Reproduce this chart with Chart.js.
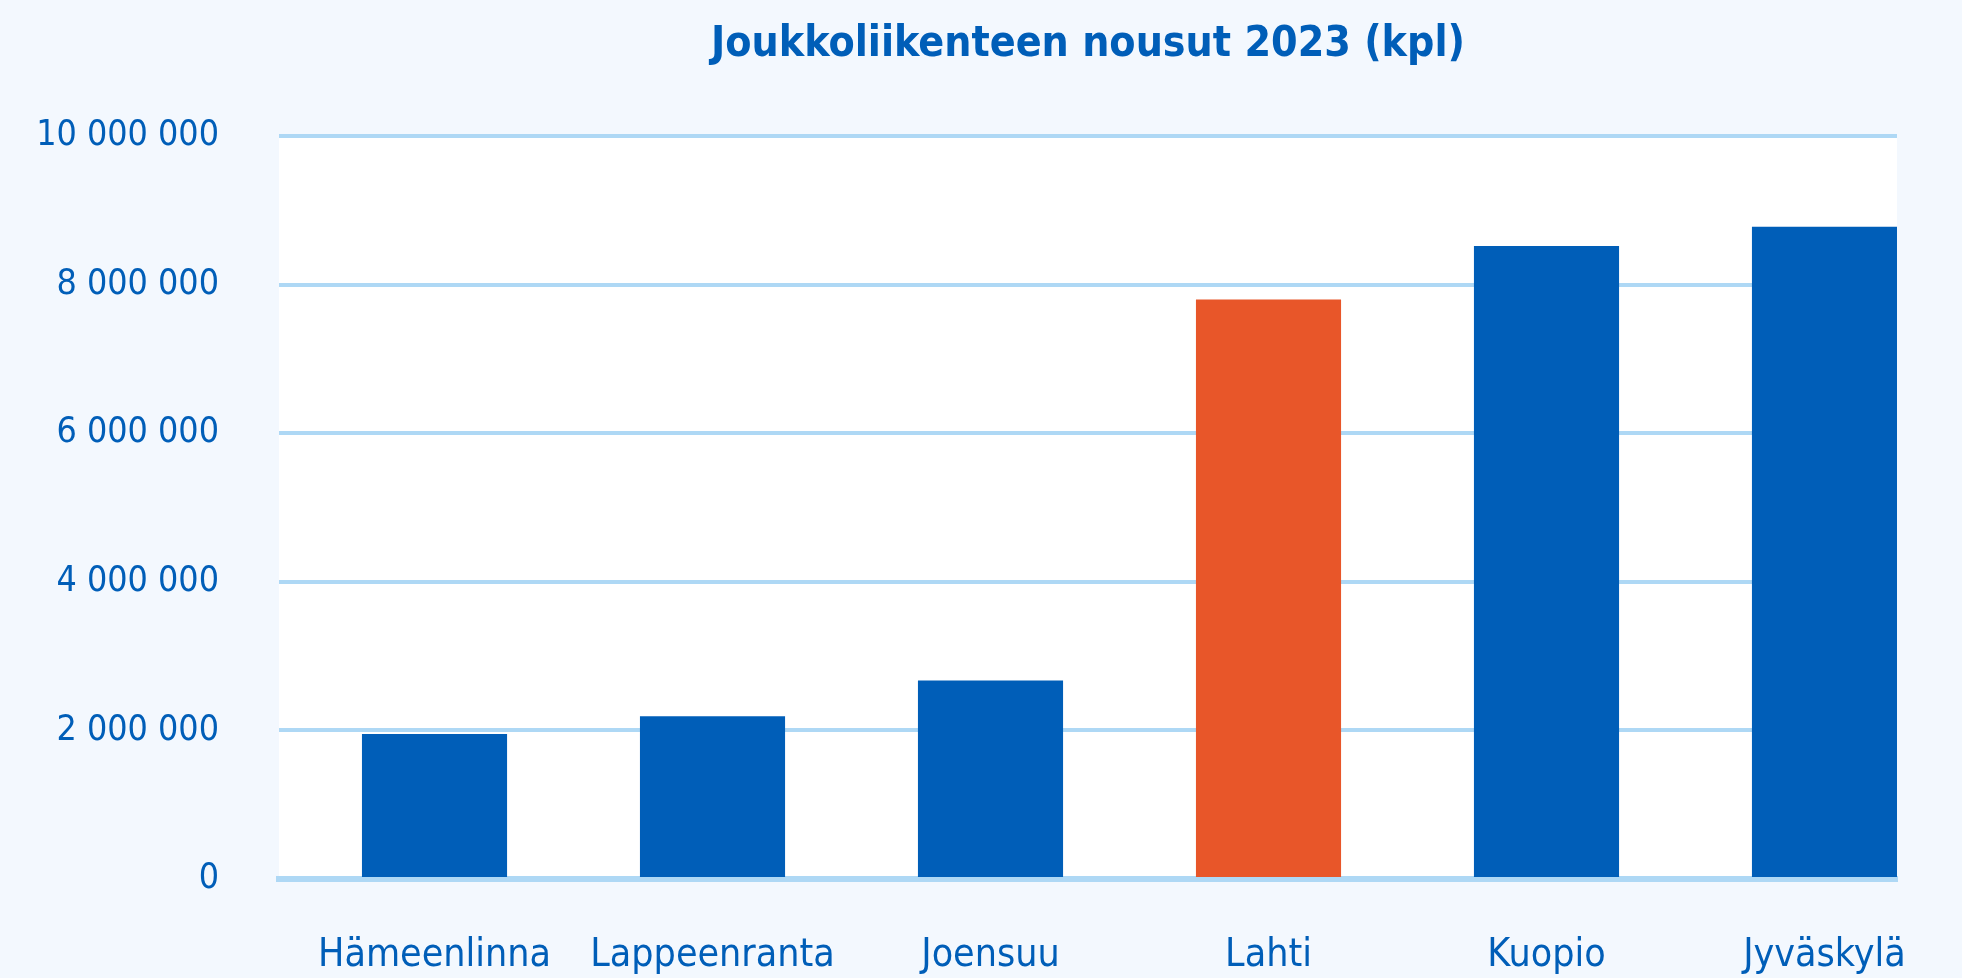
<!DOCTYPE html>
<html>
<head>
<meta charset="utf-8">
<title>Joukkoliikenteen nousut 2023</title>
<script src="https://cdn.jsdelivr.net/npm/chart.js@4/dist/chart.umd.min.js"></script>
<style>
    html, body { margin: 0; padding: 0; background: #F3F8FE; }
    #wrap { width: 1962px; height: 978px; }
</style>
</head>
<body>
<div id="wrap"><canvas id="nousutChart" width="1962" height="978"></canvas></div>
<script>
var categories = ['Hämeenlinna', 'Lappeenranta', 'Joensuu', 'Lahti', 'Kuopio', 'Jyväskylä'];
var nousut = [1950000, 2190000, 2670000, 7800000, 8520000, 8780000];
var yTicks = [0, 2000000, 4000000, 6000000, 8000000, 10000000];
var highlight = 'Lahti';

var blue = '#005EB8';
var orange = '#E85629';
var gridBlue = '#AED8F5';

function formatNumber(v) {
    return String(v).replace(/\B(?=(\d{3})+(?!\d))/g, ' ');
}

// white plot background, only behind the chart area
var plotBackground = {
    id: 'plotBackground',
    beforeDraw: function(chart) {
        var a = chart.chartArea;
        var ctx = chart.ctx;
        ctx.save();
        ctx.fillStyle = '#FFFFFF';
        ctx.fillRect(a.left, a.top, a.right - a.left, a.bottom - a.top);
        ctx.restore();
    }
};

function getDataForNousutChart() {
    var ctx = document.getElementById('nousutChart').getContext('2d');

    Chart.defaults.font.family = "'DejaVu Sans Condensed', 'DejaVu Sans', sans-serif";
    Chart.defaults.color = blue;

    var data = {
        datasets: [{
            label: 'Nousut',
            data: nousut.map(function(v, i) { return { x: i, y: v }; }),
            backgroundColor: categories.map(function(c) { return c === highlight ? orange : blue; }),
            borderWidth: 0,
            barPercentage: 0.522,
            categoryPercentage: 1.0
        }]
    };

    var options = {
        responsive: false,
        animation: false,
        layout: {
            padding: { left: 0, right: 65, top: 0, bottom: 0 }
        },
        plugins: {
            legend: { display: false },
            tooltip: { enabled: false },
            title: {
                display: true,
                fullSize: false,
                text: 'Joukkoliikenteen nousut 2023 (kpl)',
                color: blue,
                font: { size: 42.5, weight: 'bold' },
                padding: { top: 19, bottom: 66 }
            }
        },
        scales: {
            x: {
                type: 'linear',
                offset: false,
                min: -0.5594,
                max: 5.2608,
                z: 1,
                grid: { display: false, drawTicks: false, offset: false },
                border: { display: true, color: gridBlue, width: 6 },
                afterBuildTicks: function(scale) {
                    scale.ticks = categories.map(function(c, i) { return { value: i }; });
                },
                afterFit: function(scale) {
                    scale.height = 99;
                },
                ticks: {
                    autoSkip: false,
                    maxRotation: 0,
                    padding: 53,
                    font: { size: 39 },
                    color: blue,
                    callback: function(v) { return categories[v]; }
                }
            },
            y: {
                min: 0,
                max: 10000000,
                grid: { color: gridBlue, lineWidth: 4, drawTicks: false },
                border: { display: false },
                afterBuildTicks: function(scale) {
                    scale.ticks = yTicks.map(function(v) { return { value: v }; });
                },
                afterFit: function(scale) {
                    scale.width = 279;
                },
                ticks: {
                    padding: 60,
                    font: { size: 35.5 },
                    color: blue,
                    callback: function(v) { return formatNumber(v); }
                }
            }
        }
    };

    var myNousutChart = new Chart(ctx, {
        type: 'bar',
        data: data,
        options: options,
        plugins: [plotBackground]
    });
}
getDataForNousutChart();
</script>
</body>
</html>
